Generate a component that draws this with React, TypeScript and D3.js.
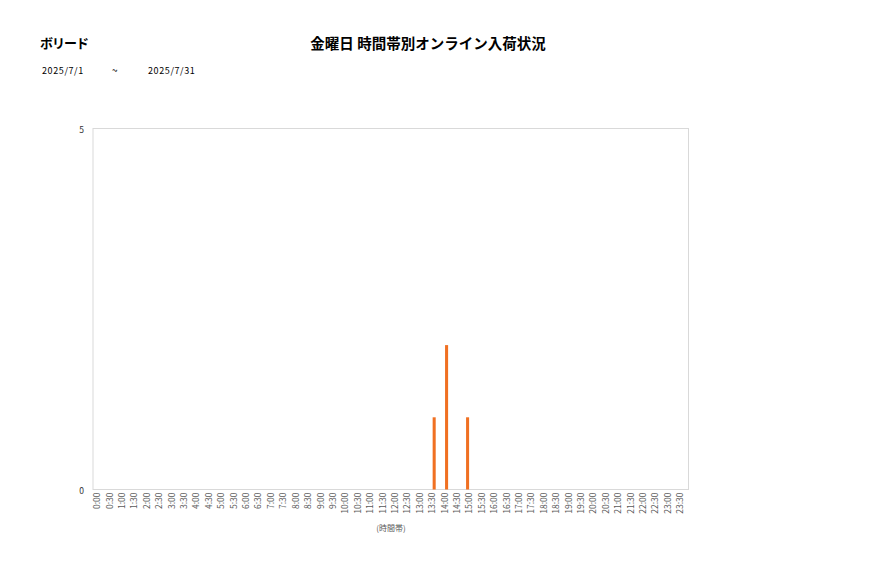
import React from "react";
import * as d3 from "d3";

const title = "金曜日 時間帯別オンライン入荷状況";
const storeName = "ボリード";
const dateFrom = "2025/7/1";
const dateSep = "~";
const dateTo = "2025/7/31";
const xAxisTitle = "(時間帯)";

const timeSlots: string[] = [
  "0:00","0:30","1:00","1:30","2:00","2:30","3:00","3:30","4:00","4:30","5:00","5:30",
  "6:00","6:30","7:00","7:30","8:00","8:30","9:00","9:30","10:00","10:30","11:00","11:30",
  "12:00","12:30","13:00","13:30","14:00","14:30","15:00","15:30","16:00","16:30","17:00","17:30",
  "18:00","18:30","19:00","19:30","20:00","20:30","21:00","21:30","22:00","22:30","23:00","23:30",
];

// three sub-series per time slot (bars are offset inside each slot)
const seriesNames = ["s1", "s2", "s3"];
const series1: Record<string, number> = { "15:00": 1 };
const series2: Record<string, number> = { "13:30": 1, "14:00": 2 };
const series3: Record<string, number> = {};
const allSeries = [series1, series2, series3];

const yTicks = [0, 5];

const W = 877;
const H = 578;
const plot = { left: 93, right: 688.5, top: 128.5, bottom: 489.5 };
const font = "'Noto Sans CJK JP', 'Noto Sans', sans-serif";
const barColor = "#F07022";

export default function App() {
  const x = d3.scaleBand<string>().domain(timeSlots).range([plot.left, plot.right]).padding(0);
  const x1 = d3
    .scaleBand<string>()
    .domain(seriesNames)
    .range([0, x.bandwidth()])
    .paddingInner(0.2)
    .paddingOuter(0.23);
  const y = d3.scaleLinear().domain([0, 5]).range([plot.bottom, plot.top]);

  const bars: { key: string; xPos: number; w: number; y0: number; y1: number }[] = [];
  allSeries.forEach((s, si) => {
    timeSlots.forEach((t) => {
      const v = s[t];
      if (v) {
        bars.push({
          key: `${si}-${t}`,
          xPos: (x(t) as number) + (x1(seriesNames[si]) as number),
          w: x1.bandwidth(),
          y0: y(0),
          y1: y(v),
        });
      }
    });
  });

  return (
    <svg width={W} height={H} style={{ position: "absolute", left: 0, top: 0, background: "#fff" }} fontFamily={font}>
      <rect x={0} y={0} width={W} height={H} fill="#fff" />
      <text x={40} y={48} fontSize={13} fontWeight="bold" fill="#000" letterSpacing={-1}>{storeName}</text>
      <text x={428} y={49} fontSize={14.5} fontWeight="bold" fill="#000" textAnchor="middle">{title}</text>
      <text x={42} y={74} fontSize={9} fill="#000" letterSpacing={0.6}>{dateFrom}</text>
      <text x={112} y={74} fontSize={10} fill="#000">{dateSep}</text>
      <text x={148} y={74} fontSize={9} fill="#000" letterSpacing={0.6}>{dateTo}</text>

      <rect
        x={plot.left}
        y={plot.top}
        width={plot.right - plot.left}
        height={plot.bottom - plot.top}
        fill="none"
        stroke="#d9d9d9"
        strokeWidth={1}
      />

      {yTicks.map((t) => (
        <text key={t} x={84} y={y(t)} fontSize={8.5} fill="#333" textAnchor="end" dominantBaseline="central">
          {t}
        </text>
      ))}

      {bars.map((b) => (
        <rect key={b.key} x={b.xPos} y={b.y1} width={b.w} height={b.y0 - b.y1} fill={barColor} />
      ))}

      {timeSlots.map((t) => {
        const cx = (x(t) as number) + x.bandwidth() / 2 - 3;
        const ty = plot.bottom + 3;
        return (
          <text
            key={t}
            x={cx}
            y={ty}
            fontSize={8.5}
            fill="#595959"
            textAnchor="end"
            dominantBaseline="central"
            transform={`rotate(-90 ${cx} ${ty})`}
          >
            {t}
          </text>
        );
      })}

      <text x={391} y={531} fontSize={8} fill="#595959" textAnchor="middle">{xAxisTitle}</text>
    </svg>
  );
}
